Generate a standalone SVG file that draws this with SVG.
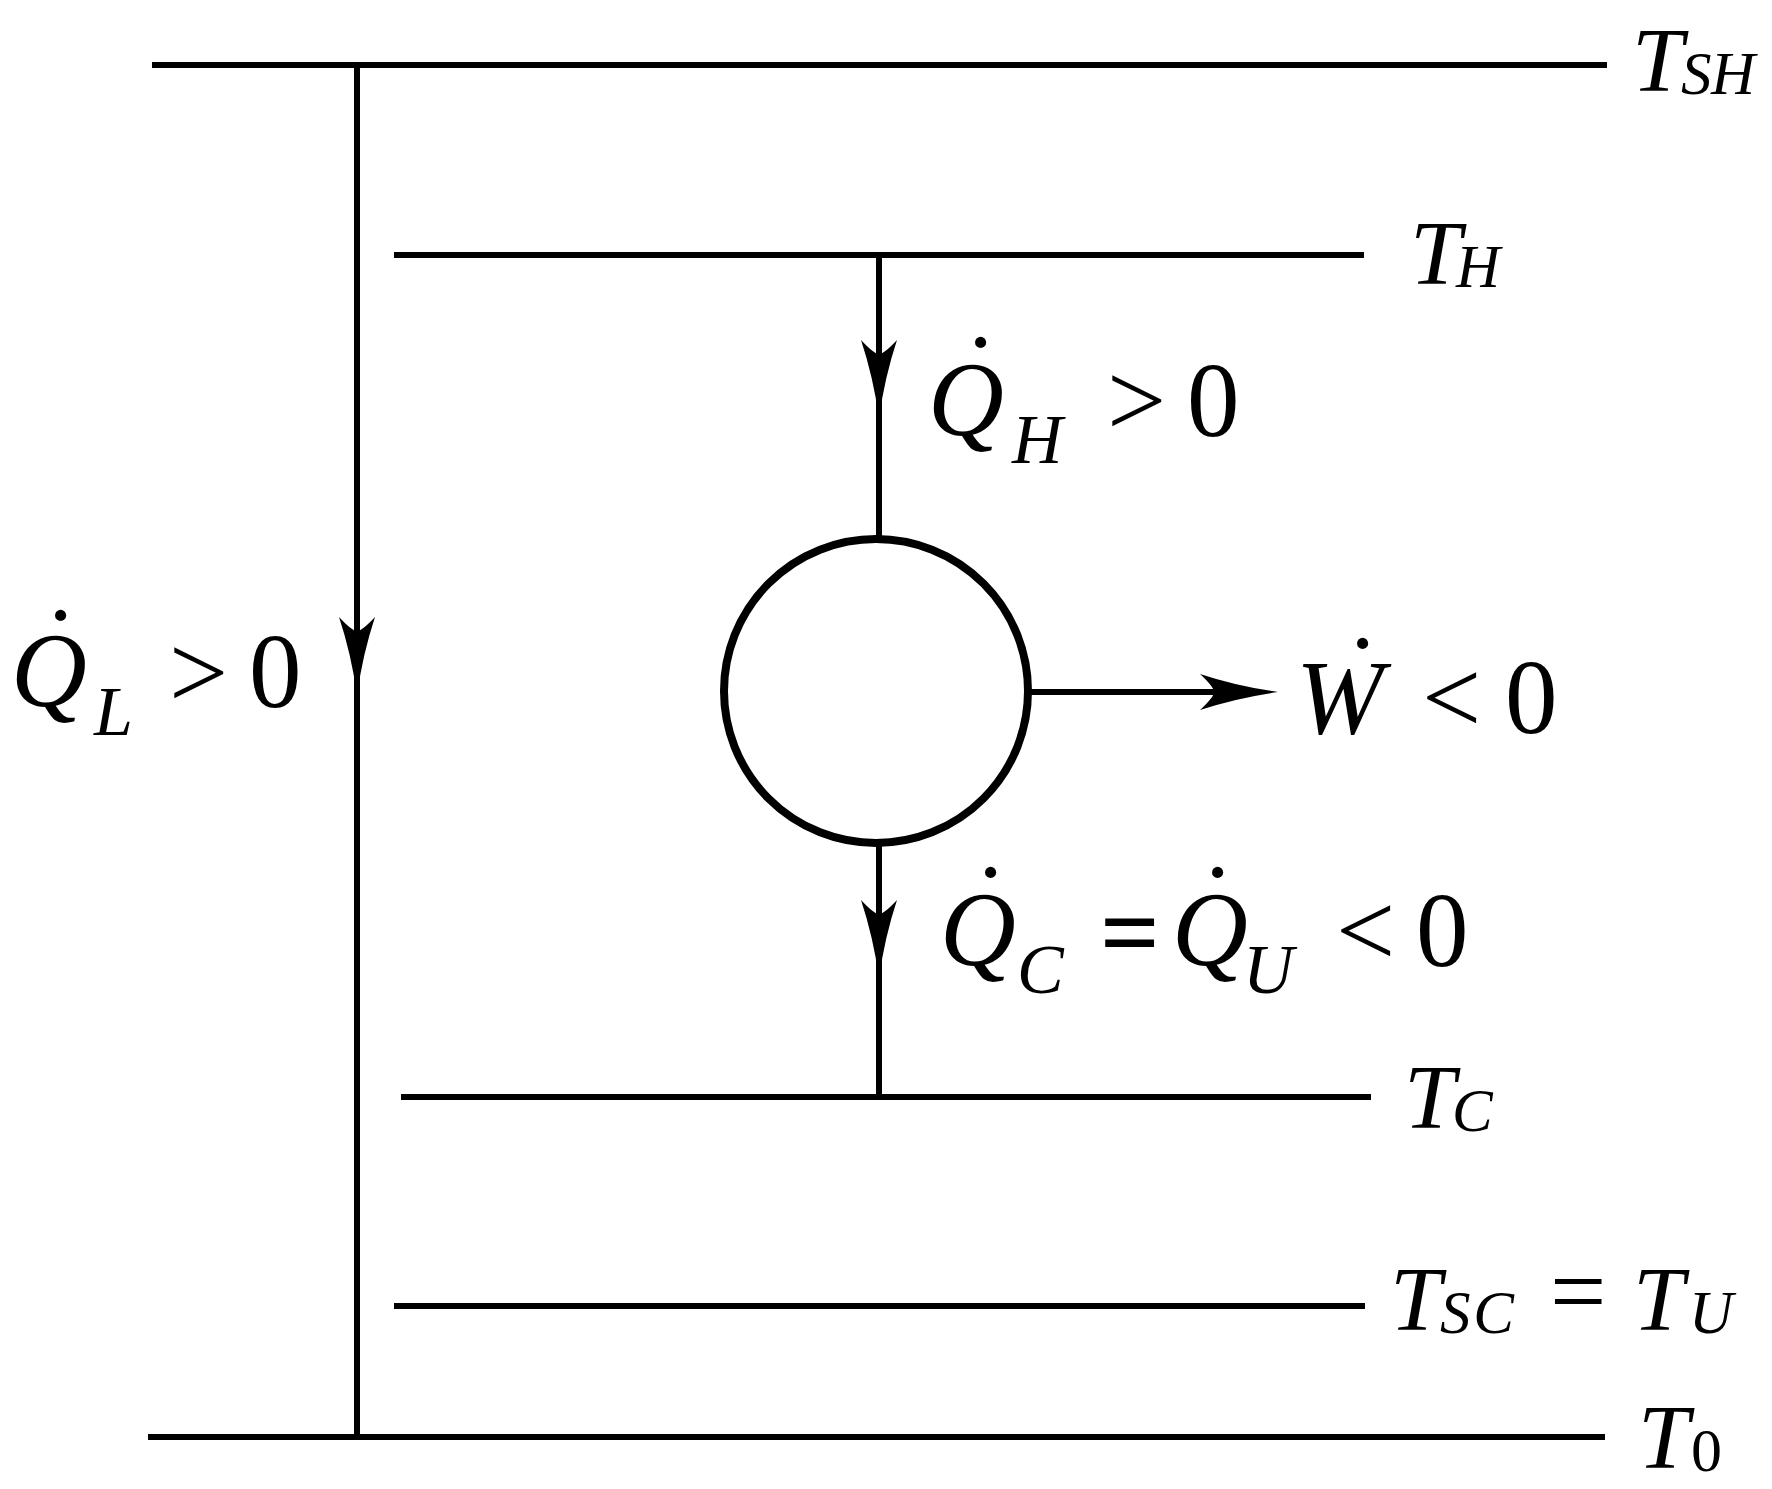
<svg xmlns="http://www.w3.org/2000/svg" width="1772" height="1489" viewBox="0 0 1772 1489">
<style>
.ln{stroke:#000;stroke-width:6;fill:none;stroke-linecap:butt}
.eng{stroke:#000;stroke-width:8;fill:#fff}
.t{font-family:"Liberation Serif","Times New Roman",serif;font-style:italic;fill:#000}
.m{font-size:92px}
.s{font-size:61px}
.q{font-size:105px}
.qs{font-size:70px}
.up{font-style:normal}
.b{font-weight:bold}
.dt{font-style:normal;font-size:105px}
</style>
<defs>
<path id="ah" d="M0,0 Q-42,-6 -78,-18 Q-64,-5 -64,0 Q-64,5 -78,18 Q-42,6 0,0 Z" fill="#000"/>
</defs>
<rect width="1772" height="1489" fill="#fff"/>

<g id="reservoir-TSH">
<line class="ln" x1="152" y1="65" x2="1607" y2="65"/>
<text class="t m" x="1632" y="91">T<tspan class="s" x="1681" y="94" textLength="74" lengthAdjust="spacing">SH</tspan></text>
</g>
<g id="reservoir-TH">
<line class="ln" x1="394" y1="255" x2="1364" y2="255"/>
<text class="t m" x="1410" y="284">T<tspan class="s" x="1456" y="287">H</tspan></text>
</g>
<g id="reservoir-TC">
<line class="ln" x1="401" y1="1097" x2="1371" y2="1097"/>
<text class="t m" x="1404" y="1128">T<tspan class="s" x="1452" y="1131">C</tspan></text>
</g>
<g id="reservoir-TSC">
<line class="ln" x1="394" y1="1306" x2="1365" y2="1306"/>
<text class="t m" x="1390" y="1330">T<tspan class="s" x="1440" y="1333" textLength="74" lengthAdjust="spacing">SC</tspan><tspan class="up" font-size="100" x="1550" y="1325">=</tspan><tspan x="1633" y="1330">T</tspan><tspan class="s" x="1689" y="1333">U</tspan></text>
</g>
<g id="reservoir-T0">
<line class="ln" x1="148" y1="1437" x2="1605" y2="1437"/>
<text class="t m" x="1638" y="1468">T<tspan class="up" font-size="62" x="1691" y="1471">0</tspan></text>
</g>

<g id="engine">
<circle class="eng" cx="876" cy="691" r="152"/>
</g>

<g id="connectors">
<line class="ln" x1="357" y1="65" x2="357" y2="1437"/>
<use href="#ah" transform="translate(357,695) rotate(90)"/>
<line class="ln" x1="879" y1="255" x2="879" y2="540"/>
<use href="#ah" transform="translate(879,418) rotate(90)"/>
<line class="ln" x1="879" y1="842" x2="879" y2="1097"/>
<use href="#ah" transform="translate(879,978) rotate(90)"/>
<line class="ln" x1="1028" y1="692" x2="1250" y2="692"/>
<use href="#ah" transform="translate(1278,692)"/>
</g>

<g id="label-QL">
<text class="t q"><tspan class="dt" x="43" y="680">˙</tspan><tspan x="11" y="706">Q</tspan><tspan class="qs" x="94" y="735">L</tspan><tspan class="up" x="169" y="708">&gt;</tspan><tspan class="up" x="249" y="707">0</tspan></text>
</g>
<g id="label-QH">
<text class="t q"><tspan class="dt" x="963" y="407">˙</tspan><tspan x="928" y="435">Q</tspan><tspan class="qs" x="1012" y="463">H</tspan><tspan class="up" x="1107" y="436">&gt;</tspan><tspan class="up" x="1187" y="436">0</tspan></text>
</g>
<g id="label-W">
<text class="t q"><tspan class="dt" x="1345" y="708">˙</tspan><tspan x="1296" y="733">W</tspan><tspan class="up" x="1422" y="733">&lt;</tspan><tspan class="up" x="1505" y="733">0</tspan></text>
</g>
<g id="label-QC">
<text class="t q"><tspan class="dt" x="973" y="937">˙</tspan><tspan x="940" y="965">Q</tspan><tspan class="qs" x="1017" y="993">C</tspan><tspan class="up b" x="1100" y="968">=</tspan><tspan class="dt" x="1200" y="937">˙</tspan><tspan x="1172" y="965">Q</tspan><tspan class="qs" x="1243" y="993">U</tspan><tspan class="up" x="1336" y="966">&lt;</tspan><tspan class="up" x="1416" y="966">0</tspan></text>
</g>
</svg>
